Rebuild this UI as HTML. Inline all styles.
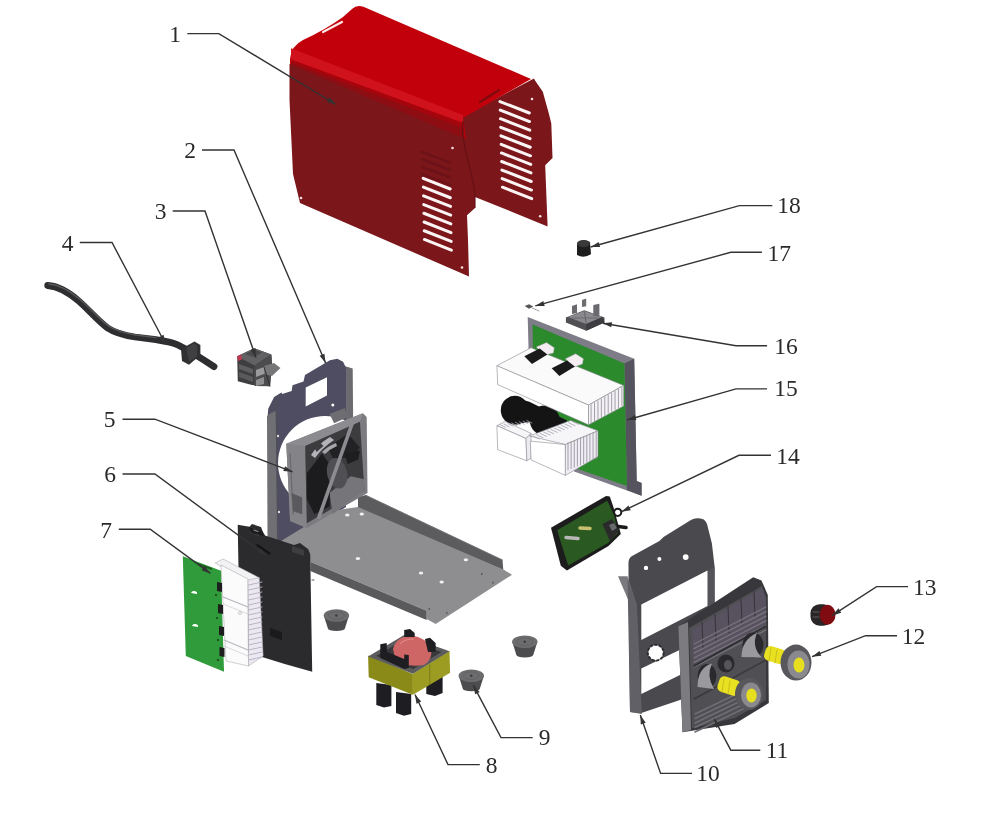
<!DOCTYPE html>
<html><head><meta charset="utf-8"><style>
html,body{margin:0;padding:0;background:#fff;width:983px;height:817px;overflow:hidden}
svg{display:block;will-change:transform}
text{font-family:"Liberation Serif",serif;font-size:23.5px;fill:#2a2a2a}
</style></head><body>
<svg width="983" height="817" viewBox="0 0 983 817">
<polygon points="462,116.5 534,78.5 535,80.5 542.8,91.8 548.9,113.8 551.3,123.6 552.5,157.9 545.2,165.2 547.6,226.4 475,196.9 471.8,190 466,160 462,138" fill="#7b161b" />
<path d="M290,72 L290,59 Q291,46 303,40 Q325,30 343,17 L352,9 Q357,4 364,7 L531,79 L463,118 L466,139 Z" fill="#c2000b"/>
<polygon points="291,48.3 463,115.1 463,123.11 291,59.47" fill="#d0121c" />
<polygon points="291,59.47 463,123.11 465,139.938 291,65.5525" fill="#a5050d" />
<polygon points="291,62.47 463,128.11 465,139.938 291,65.5525" fill="#8e0d13" />
<polygon points="289.5,63.9112 466,139.365 467.7,159.5 473.6,184 475,196 475,208 467,215.2 468,240 469,276.5 300,203 293,174 289.5,100" fill="#7b161b" />
<path d="M463,121 Q461,135 467.7,159.5 L473.6,184 L475,196 L475,208" fill="none" stroke="#641015" stroke-width="1.1"/>
<line x1="500" y1="101.6" x2="529.3" y2="113" stroke="#fbf4f4" stroke-width="3.0" stroke-linecap="round"/>
<line x1="500.24" y1="110.16" x2="529.54" y2="121.56" stroke="#fbf4f4" stroke-width="3.0" stroke-linecap="round"/>
<line x1="500.48" y1="118.72" x2="529.78" y2="130.12" stroke="#fbf4f4" stroke-width="3.0" stroke-linecap="round"/>
<line x1="500.72" y1="127.28" x2="530.02" y2="138.68" stroke="#fbf4f4" stroke-width="3.0" stroke-linecap="round"/>
<line x1="500.96" y1="135.84" x2="530.26" y2="147.24" stroke="#fbf4f4" stroke-width="3.0" stroke-linecap="round"/>
<line x1="501.2" y1="144.4" x2="530.5" y2="155.8" stroke="#fbf4f4" stroke-width="3.0" stroke-linecap="round"/>
<line x1="501.44" y1="152.96" x2="530.74" y2="164.36" stroke="#fbf4f4" stroke-width="3.0" stroke-linecap="round"/>
<line x1="501.68" y1="161.52" x2="530.98" y2="172.92" stroke="#fbf4f4" stroke-width="3.0" stroke-linecap="round"/>
<line x1="501.92" y1="170.08" x2="531.22" y2="181.48" stroke="#fbf4f4" stroke-width="3.0" stroke-linecap="round"/>
<line x1="502.16" y1="178.64" x2="531.46" y2="190.04" stroke="#fbf4f4" stroke-width="3.0" stroke-linecap="round"/>
<line x1="502.4" y1="187.2" x2="531.7" y2="198.6" stroke="#fbf4f4" stroke-width="3.0" stroke-linecap="round"/>
<line x1="422" y1="152" x2="450" y2="162.5" stroke="#6c1218" stroke-width="2.3" stroke-linecap="round"/>
<line x1="422" y1="159.4" x2="450" y2="169.9" stroke="#6c1218" stroke-width="2.3" stroke-linecap="round"/>
<line x1="422" y1="166.8" x2="450" y2="177.3" stroke="#6c1218" stroke-width="2.3" stroke-linecap="round"/>
<line x1="422" y1="174.2" x2="450" y2="184.7" stroke="#6c1218" stroke-width="2.3" stroke-linecap="round"/>
<line x1="423.2" y1="178.3" x2="450.2" y2="189" stroke="#fbf4f4" stroke-width="3.0" stroke-linecap="round"/>
<line x1="423.37" y1="187.04" x2="450.37" y2="197.74" stroke="#fbf4f4" stroke-width="3.0" stroke-linecap="round"/>
<line x1="423.54" y1="195.78" x2="450.54" y2="206.48" stroke="#fbf4f4" stroke-width="3.0" stroke-linecap="round"/>
<line x1="423.71" y1="204.52" x2="450.71" y2="215.22" stroke="#fbf4f4" stroke-width="3.0" stroke-linecap="round"/>
<line x1="423.88" y1="213.26" x2="450.88" y2="223.96" stroke="#fbf4f4" stroke-width="3.0" stroke-linecap="round"/>
<line x1="424.05" y1="222" x2="451.05" y2="232.7" stroke="#fbf4f4" stroke-width="3.0" stroke-linecap="round"/>
<line x1="424.22" y1="230.74" x2="451.22" y2="241.44" stroke="#fbf4f4" stroke-width="3.0" stroke-linecap="round"/>
<line x1="424.39" y1="239.48" x2="451.39" y2="250.18" stroke="#fbf4f4" stroke-width="3.0" stroke-linecap="round"/>
<circle cx="301" cy="198" r="1.3" fill="#f4e0e0"/>
<circle cx="462" cy="267.5" r="1.3" fill="#f4e0e0"/>
<circle cx="540.2" cy="216.3" r="1.3" fill="#f4e0e0"/>
<circle cx="532" cy="99" r="1.3" fill="#f4e0e0"/>
<circle cx="452.5" cy="148" r="1.3" fill="#f4e0e0"/>
<line x1="323" y1="32" x2="342" y2="22" stroke="#ffe8e8" stroke-width="2.2" stroke-linecap="round"/>
<line x1="480" y1="102" x2="499" y2="90" stroke="#7e0a10" stroke-width="2.2" stroke-linecap="round"/>
<path d="M47.7,285.5 C56,286 66,290 78.7,301 C88,309 98,321 107.6,328 C115,333 122,335 135,337 L156,339.6 C165,341 172,342 178,345 C186,349 195,354 214,366.6" fill="none" stroke="#2e2e30" stroke-width="6.8" stroke-linecap="round"/>
<path d="M49,284 C57,284.5 67,288.5 79.5,299 C89,307 99,319 108.5,326 C116,331 123,333 136,335 L156,337.6" fill="none" stroke="#58585a" stroke-width="1.3" stroke-linecap="round"/>
<polygon points="181,349 194.5,341.5 200.4,345 200.4,355 189,364.7 182,361" fill="#303032" />
<polygon points="186,348 194.5,343 197,346 197,356 189,362" fill="#404042" />
<polygon points="237.2,356.3 254.2,348.3 271.3,354.4 272,364 270,386.2 252,385 237.8,381.3" fill="#3e3e40" />
<polygon points="237.2,356.3 254.2,348.3 271.3,354.4 254.5,365.5" fill="#626264" />
<polygon points="245,354 254.2,349.5 262,352.5 254,357" fill="#4a4a4c" />
<polygon points="254.5,365.5 271.3,354.4 272,364 270,386.2 254.5,386" fill="#4c4c4e" />
<polygon points="239,364 253,369 253,374 239,369" fill="#5e5e60" />
<polygon points="239,372 253,377 253,382 239,377" fill="#5a5a5c" />
<polygon points="256,370 264,367 264,374 256,377" fill="#9a9a9c" />
<polygon points="256,380 264,377 264,384 256,386" fill="#8e8e90" />
<polygon points="264,366 274,363 280.5,368 272,376 264,374" fill="#767678" />
<polygon points="237.2,356.3 241,354.5 242,359.5 238,361" fill="#c03a50" />
<line x1="264" y1="367" x2="270" y2="386" stroke="#2e2e30" stroke-width="1" stroke-linecap="round"/>
<polygon points="344.6,366 352.7,368.4 353.8,501 346,498" fill="#6c6c70" />
<polygon points="329.9,360.3 337.3,358.8 343.1,361.8 346,368 346,507 270,553 267.5,419 268.2,408.8 274.1,397 281.4,392.6 282.2,394 291.7,391.1 292.5,385.3 303.5,381.6 305,375" fill="#4e4d62" />
<polygon points="267,416 271,413 275.6,411 277.5,548 270,552 267.5,540" fill="#707074" />
<line x1="276.5" y1="400" x2="277.5" y2="548" stroke="#505054" stroke-width="0.8" stroke-linecap="round"/>
<polygon points="305.7,387.5 327,377.2 327,395.5 305.7,406.5" fill="#ffffff" />
<circle cx="332.8" cy="405" r="1.5" fill="#fff"/>
<circle cx="278" cy="436" r="1.2" fill="#ddd"/>
<circle cx="279" cy="512" r="1.2" fill="#ddd"/>
<circle cx="325" cy="463" r="47" fill="#ffffff"/>
<polygon points="358,497 366,495 502.5,559.7 503.3,570 358,508" fill="#5c5c5e" />
<line x1="366" y1="495.5" x2="502.5" y2="560" stroke="#7a7a7c" stroke-width="0.8" stroke-linecap="round"/>
<polygon points="281,541 330,511 358,507 503.3,569.5 512,574.8 435.7,624 426.6,619 426.6,610.8 310.3,561.8" fill="#8e8e90" />
<polygon points="310.3,561.8 426.6,610.8 426.6,620 310.3,571" fill="#5a5a5c" />
<ellipse cx="361.8" cy="514" rx="2.2" ry="1.5" fill="#f0f0f0"/>
<ellipse cx="357.9" cy="558.5" rx="2.2" ry="1.5" fill="#f0f0f0"/>
<ellipse cx="421" cy="572.9" rx="2.2" ry="1.5" fill="#f0f0f0"/>
<ellipse cx="441.7" cy="581.9" rx="2.2" ry="1.5" fill="#f0f0f0"/>
<ellipse cx="465.9" cy="559.7" rx="2.2" ry="1.5" fill="#f0f0f0"/>
<ellipse cx="347.3" cy="515" rx="2.2" ry="1.5" fill="#f0f0f0"/>
<circle cx="481.8" cy="574" r="0.9" fill="#5a5a5c"/>
<circle cx="493" cy="582.7" r="0.9" fill="#5a5a5c"/>
<circle cx="429.3" cy="609" r="0.9" fill="#5a5a5c"/>
<circle cx="446.8" cy="613" r="0.9" fill="#5a5a5c"/>
<polygon points="286.3,443.7 362.9,413.3 366.7,417.1 367.5,493 306.8,527.9 290.1,521.1" fill="#7c7c80" />
<polygon points="286.3,443.7 305.2,445.9 306.8,527.9 290.1,521.1" fill="#848488" />
<polygon points="286.3,443.7 362.9,413.3 359.9,421.7 305.2,445.9" fill="#8c8c90" />
<polygon points="305.2,445.9 359.9,421.7 364.4,489.9 306.8,523.3" fill="#3c3c3e" />
<polygon points="329.5,493 350.8,476.3 364.4,479.3 364.4,489.9 332.6,514.2" fill="#76767a" />
<polygon points="306.8,473.3 321.9,453.5 331,465.7 329.5,506.6 314.3,514.2 306.8,499" fill="#1c1c1e" />
<polygon points="328,447.5 347.7,433.8 359.9,447.5 350.8,458.1 332.6,458.1" fill="#222224" />
<ellipse cx="337.1" cy="473.3" rx="10" ry="15.5" fill="#505054" transform="rotate(-12 337.1 473.3)"/>
<polygon points="344.7,453.5 359.9,450.5 358.4,459.6 347.7,464.1" fill="#1e1e20" />
<path d="M311,455 Q318,444 330,437 L334,440 Q322,448 315,458 Z" fill="#b4b4b8"/>
<path d="M322,452 Q328,446 336,443 L337,446 Q330,449 325,454 Z" fill="#a8a8ac"/>
<polygon points="314.3,447.5 320.4,442.9 323.5,445.9 316.6,452" fill="#3c3c3e" />
<line x1="352.3" y1="423.2" x2="318.9" y2="517.3" stroke="#8c8c90" stroke-width="3.6" stroke-linecap="round"/>
<line x1="290.1" y1="453.5" x2="293.1" y2="514.2" stroke="#6a6a6e" stroke-width="1.2" stroke-linecap="round"/>
<polygon points="291.6,493 302.2,497.5 302.2,514.2 293.1,511.2" fill="#5a5a5e" />
<polygon points="329.5,414.1 344.7,408 347.7,417.1 334.1,423.2" fill="#6e6e72" />
<polygon points="237.7,524.8 249.5,526.8 252,524 261,527 263,532 265.1,535.6 294,545 300,543 308.3,549.3 310.2,554.2 312.2,671.8 284.7,664 240,650" fill="#2b2b2d" />
<polygon points="250,527 259,530 259,536 250,533" fill="#444446" />
<polygon points="292,546 304,550 304,556 292,552" fill="#3e3e40" />
<polygon points="270,628 282,632 282,640 270,636" fill="#1a1a1c" />
<line x1="257.5" y1="545.2" x2="269.4" y2="553.5" stroke="#141416" stroke-width="2.2" stroke-linecap="round"/>
<polygon points="249,527 262,531 264,536 251,533" fill="#1c1c1e" />
<line x1="254" y1="530" x2="258" y2="531.5" stroke="#8a8a8c" stroke-width="1.2" stroke-linecap="round"/>
<line x1="312" y1="580" x2="314" y2="580" stroke="#555" stroke-width="1" stroke-linecap="round"/>
<polygon points="215.2,563 223,559 259.3,577.7 250,582 248,582" fill="#f2f2f4" stroke="#a0a0a6" stroke-width="0.5" stroke-linejoin="round" />
<polygon points="221,565 248,579 248.5,666 226,661" fill="#fbfbfc" stroke="#a0a0a6" stroke-width="0.5" stroke-linejoin="round" />
<polygon points="248,580 259.3,577.7 263.2,656 248.5,666" fill="#ece8f2" stroke="#a0a0a6" stroke-width="0.5" stroke-linejoin="round" />
<line x1="248.5" y1="585" x2="262" y2="582" stroke="#b4aebe" stroke-width="0.9" stroke-linecap="round"/>
<line x1="248.5" y1="590" x2="262" y2="587" stroke="#b4aebe" stroke-width="0.9" stroke-linecap="round"/>
<line x1="248.5" y1="595" x2="262" y2="592" stroke="#b4aebe" stroke-width="0.9" stroke-linecap="round"/>
<line x1="248.5" y1="600" x2="262" y2="597" stroke="#b4aebe" stroke-width="0.9" stroke-linecap="round"/>
<line x1="248.5" y1="605" x2="262" y2="602" stroke="#b4aebe" stroke-width="0.9" stroke-linecap="round"/>
<line x1="248.5" y1="610" x2="262" y2="607" stroke="#b4aebe" stroke-width="0.9" stroke-linecap="round"/>
<line x1="248.5" y1="615" x2="262" y2="612" stroke="#b4aebe" stroke-width="0.9" stroke-linecap="round"/>
<line x1="248.5" y1="620" x2="262" y2="617" stroke="#b4aebe" stroke-width="0.9" stroke-linecap="round"/>
<line x1="248.5" y1="625" x2="262" y2="622" stroke="#b4aebe" stroke-width="0.9" stroke-linecap="round"/>
<line x1="248.5" y1="630" x2="262" y2="627" stroke="#b4aebe" stroke-width="0.9" stroke-linecap="round"/>
<line x1="248.5" y1="635" x2="262" y2="632" stroke="#b4aebe" stroke-width="0.9" stroke-linecap="round"/>
<line x1="248.5" y1="640" x2="262" y2="637" stroke="#b4aebe" stroke-width="0.9" stroke-linecap="round"/>
<line x1="248.5" y1="645" x2="262" y2="642" stroke="#b4aebe" stroke-width="0.9" stroke-linecap="round"/>
<line x1="248.5" y1="650" x2="262" y2="647" stroke="#b4aebe" stroke-width="0.9" stroke-linecap="round"/>
<line x1="248.5" y1="655" x2="262" y2="652" stroke="#b4aebe" stroke-width="0.9" stroke-linecap="round"/>
<line x1="248.5" y1="660" x2="262" y2="657" stroke="#b4aebe" stroke-width="0.9" stroke-linecap="round"/>
<line x1="223" y1="597" x2="248" y2="607" stroke="#b8b8be" stroke-width="1.2" stroke-linecap="round"/>
<line x1="223" y1="604" x2="248" y2="614" stroke="#d0d0d4" stroke-width="0.8" stroke-linecap="round"/>
<line x1="224" y1="640" x2="248" y2="650" stroke="#b8b8be" stroke-width="1.2" stroke-linecap="round"/>
<line x1="224" y1="646" x2="248" y2="656" stroke="#d0d0d4" stroke-width="0.8" stroke-linecap="round"/>
<circle cx="240" cy="613" r="1.5" fill="none" stroke="#aaa" stroke-width="0.6"/>
<polygon points="182.8,556.2 221,570.8 224,671.8 185.8,656.1" fill="#2f9b3b" />
<path d="M191,593 a3,2.5 0 1,1 6,1 l-3,-0.5 z" fill="#fff"/>
<path d="M192,626 a3,2.5 0 1,1 6,1 l-3,-0.5 z" fill="#fff"/>
<polygon points="217,582 222,583 222,592 217,591" fill="#1e1e1e" />
<polygon points="218,604 223,605 223,614 218,613" fill="#1e1e1e" />
<polygon points="219,626 224,627 224,636 219,635" fill="#1e1e1e" />
<polygon points="219.5,647 224.5,648 224.5,657 219.5,656" fill="#1e1e1e" />
<circle cx="216" cy="595" r="1.1" fill="#1e3e1e"/>
<circle cx="217" cy="618" r="1.1" fill="#1e3e1e"/>
<circle cx="218" cy="640" r="1.1" fill="#1e3e1e"/>
<circle cx="218" cy="660" r="1.1" fill="#1e3e1e"/>
<polygon points="198,563 212,568 212,570 198,565" fill="#1e5a1e" />
<polygon points="323.8,615.5 349,615.5 344.9,628.5 327.9,628.5" fill="#4c4c4e" />
<ellipse cx="336.4" cy="628.5" rx="8.5" ry="2.6" fill="#4c4c4e"/>
<ellipse cx="336.4" cy="615.5" rx="12.7" ry="6.3" fill="#6c6c6e"/>
<ellipse cx="336.4" cy="615.5" rx="8" ry="3.8" fill="none" stroke="#606062" stroke-width="0.8"/>
<circle cx="336.4" cy="615.5" r="1.2" fill="#3a3a3c"/>
<polygon points="512.2,641.8 537.4,641.8 533.3,654.8 516.3,654.8" fill="#4c4c4e" />
<ellipse cx="524.8" cy="654.8" rx="8.5" ry="2.6" fill="#4c4c4e"/>
<ellipse cx="524.8" cy="641.8" rx="12.7" ry="6.3" fill="#6c6c6e"/>
<ellipse cx="524.8" cy="641.8" rx="8" ry="3.8" fill="none" stroke="#606062" stroke-width="0.8"/>
<circle cx="524.8" cy="641.8" r="1.2" fill="#3a3a3c"/>
<polygon points="458.7,675.7 483.9,675.7 479.8,688.7 462.8,688.7" fill="#4c4c4e" />
<ellipse cx="471.3" cy="688.7" rx="8.5" ry="2.6" fill="#4c4c4e"/>
<ellipse cx="471.3" cy="675.7" rx="12.7" ry="6.3" fill="#6c6c6e"/>
<ellipse cx="471.3" cy="675.7" rx="8" ry="3.8" fill="none" stroke="#606062" stroke-width="0.8"/>
<circle cx="471.3" cy="675.7" r="1.2" fill="#3a3a3c"/>
<polygon points="376.3,683 391.4,685 391.4,706 384,707.6 376.3,705" fill="#1e1e22" />
<polygon points="396,692 411.2,694 411.2,714 404,715.7 396,713" fill="#1e1e22" />
<polygon points="426.3,681 442.6,677 442.6,693 435,695.9 426.3,694" fill="#1e1e22" />
<polygon points="368.1,655.4 412.9,674 412.9,694.8 368.7,677.3" fill="#8a8a18" />
<polygon points="412.4,674 449.5,650.7 450.1,672.7 412.9,694.8" fill="#9c9c22" />
<line x1="429.8" y1="665" x2="429.8" y2="684" stroke="#74741a" stroke-width="0.8" stroke-linecap="round"/>
<polygon points="368.1,656.4 404.2,635 449.5,651.2 412.9,673.8" fill="#5c5c5e" />
<polygon points="376,656 404.2,639.5 441.5,652 413,669" fill="#38383a" />
<path d="M393,649 Q396,637 410,635.5 Q426,637 431,648 Q433,660 424,665 Q412,667 403,664 Q394,659 393,649 Z" fill="#cf6666"/>
<path d="M400,644 Q404,639 414,639" fill="none" stroke="#e08a86" stroke-width="1.2"/>
<polygon points="380.3,644.2 386.7,643 387,652 404.2,659 404.2,654.5 408.8,655 408.8,668 404.5,669 380.3,658" fill="#1e1e22" />
<polygon points="404.2,630 410,629 414.7,633 414.7,637 404.2,637" fill="#1e1e22" />
<polygon points="425,639 430,637.8 435.6,643 435.6,651.7 428,652" fill="#1e1e22" />
<polygon points="527.7,317.1 634.2,358.8 636.7,481.1 641.6,483 641.6,495.8 574.2,471.4 529,366" fill="#7e7c86" />
<polygon points="624.4,363.6 634.2,358.8 636.7,481.1 641.6,483 641.6,495.8 626.9,490" fill="#55535e" />
<polygon points="532.6,324.5 624.4,363.6 626.9,486 578,469 533,370" fill="#2a8a2c" />
<polygon points="501.1,408.5 510.6,396.5 529.4,401.7 567.1,420.5 562,432.5 541.4,436 529.4,422.2 510.6,424" fill="#141414" />
<ellipse cx="514.8" cy="410.3" rx="14" ry="14.5" fill="#141414"/>
<ellipse cx="544.8" cy="420.5" rx="15" ry="15" fill="#141414"/>
<polygon points="496.9,365.7 531.1,347.7 623.7,385.4 588.5,405.1" fill="#fafafb" stroke="#8a8a90" stroke-width="0.6" stroke-linejoin="round" />
<polygon points="496.9,365.7 588.5,405.1 588.5,424.8 497.7,384.6" fill="#ffffff" stroke="#8a8a90" stroke-width="0.6" stroke-linejoin="round" />
<polygon points="588.5,405.1 623.7,385.4 623.7,406 588.5,424.8" fill="#f4f2f6" stroke="#8a8a90" stroke-width="0.6" stroke-linejoin="round" />
<line x1="591.1" y1="404.7" x2="591.1" y2="422.7" stroke="#9a96a2" stroke-width="0.9" stroke-linecap="round"/>
<line x1="594.522" y1="402.8" x2="594.522" y2="420.8" stroke="#9a96a2" stroke-width="0.9" stroke-linecap="round"/>
<line x1="597.944" y1="400.9" x2="597.944" y2="418.9" stroke="#9a96a2" stroke-width="0.9" stroke-linecap="round"/>
<line x1="601.367" y1="399" x2="601.367" y2="417" stroke="#9a96a2" stroke-width="0.9" stroke-linecap="round"/>
<line x1="604.789" y1="397.1" x2="604.789" y2="415.1" stroke="#9a96a2" stroke-width="0.9" stroke-linecap="round"/>
<line x1="608.211" y1="395.2" x2="608.211" y2="413.2" stroke="#9a96a2" stroke-width="0.9" stroke-linecap="round"/>
<line x1="611.633" y1="393.3" x2="611.633" y2="411.3" stroke="#9a96a2" stroke-width="0.9" stroke-linecap="round"/>
<line x1="615.056" y1="391.4" x2="615.056" y2="409.4" stroke="#9a96a2" stroke-width="0.9" stroke-linecap="round"/>
<line x1="618.478" y1="389.5" x2="618.478" y2="407.5" stroke="#9a96a2" stroke-width="0.9" stroke-linecap="round"/>
<line x1="621.9" y1="387.6" x2="621.9" y2="405.6" stroke="#9a96a2" stroke-width="0.9" stroke-linecap="round"/>
<polygon points="536.3,346.9 546.5,342.6 554.3,347.7 553.4,352.9 544,355.4" fill="#f4eef2" stroke="#9a9aa0" stroke-width="0.5" stroke-linejoin="round" />
<polygon points="565.4,358.8 575.7,353.7 583.4,358.8 582.5,364 573.1,367.4" fill="#f4eef2" stroke="#9a9aa0" stroke-width="0.5" stroke-linejoin="round" />
<polygon points="524.3,356.3 539.7,348.6 547.4,354.6 532,364" fill="#1a1a1a" />
<polygon points="551.7,368.3 567.1,360.6 574.8,366.6 559.4,376" fill="#1a1a1a" />
<polygon points="496.9,425.7 505.4,421.4 531.1,433.4 526,438.5" fill="#f6f6f8" stroke="#8a8a90" stroke-width="0.6" stroke-linejoin="round" />
<polygon points="496.9,425.7 526,438.5 526.8,460.8 497.7,449.7" fill="#ffffff" stroke="#8a8a90" stroke-width="0.6" stroke-linejoin="round" />
<polygon points="526,438.5 531.1,433.4 531.1,458.2 526.8,460.8" fill="#eeecf2" stroke="#8a8a90" stroke-width="0.6" stroke-linejoin="round" />
<polygon points="529.4,436 570.5,420.5 598,430.8 565.4,444.5" fill="#f6f6f8" stroke="#8a8a90" stroke-width="0.6" stroke-linejoin="round" />
<polygon points="530.3,441.1 565.4,444.5 565.4,475.4 531.1,459.9" fill="#ffffff" stroke="#8a8a90" stroke-width="0.6" stroke-linejoin="round" />
<polygon points="565.4,444.5 598,430.8 598,456.5 565.4,475.4" fill="#f0eef4" stroke="#8a8a90" stroke-width="0.6" stroke-linejoin="round" />
<line x1="500.3" y1="424.8" x2="505.3" y2="427.3" stroke="#a8a4b0" stroke-width="0.8" stroke-linecap="round"/>
<line x1="504.086" y1="424.186" x2="509.086" y2="426.686" stroke="#a8a4b0" stroke-width="0.8" stroke-linecap="round"/>
<line x1="507.871" y1="423.571" x2="512.871" y2="426.071" stroke="#a8a4b0" stroke-width="0.8" stroke-linecap="round"/>
<line x1="511.657" y1="422.957" x2="516.657" y2="425.457" stroke="#a8a4b0" stroke-width="0.8" stroke-linecap="round"/>
<line x1="515.443" y1="422.343" x2="520.443" y2="424.843" stroke="#a8a4b0" stroke-width="0.8" stroke-linecap="round"/>
<line x1="519.229" y1="421.729" x2="524.229" y2="424.229" stroke="#a8a4b0" stroke-width="0.8" stroke-linecap="round"/>
<line x1="523.014" y1="421.114" x2="528.014" y2="423.614" stroke="#a8a4b0" stroke-width="0.8" stroke-linecap="round"/>
<line x1="526.8" y1="420.5" x2="531.8" y2="423" stroke="#a8a4b0" stroke-width="0.8" stroke-linecap="round"/>
<line x1="532.8" y1="436" x2="539.3" y2="439" stroke="#a8a4b0" stroke-width="0.8" stroke-linecap="round"/>
<line x1="536.382" y1="434.673" x2="542.882" y2="437.673" stroke="#a8a4b0" stroke-width="0.8" stroke-linecap="round"/>
<line x1="539.964" y1="433.345" x2="546.464" y2="436.345" stroke="#a8a4b0" stroke-width="0.8" stroke-linecap="round"/>
<line x1="543.545" y1="432.018" x2="550.045" y2="435.018" stroke="#a8a4b0" stroke-width="0.8" stroke-linecap="round"/>
<line x1="547.127" y1="430.691" x2="553.627" y2="433.691" stroke="#a8a4b0" stroke-width="0.8" stroke-linecap="round"/>
<line x1="550.709" y1="429.364" x2="557.209" y2="432.364" stroke="#a8a4b0" stroke-width="0.8" stroke-linecap="round"/>
<line x1="554.291" y1="428.036" x2="560.791" y2="431.036" stroke="#a8a4b0" stroke-width="0.8" stroke-linecap="round"/>
<line x1="557.873" y1="426.709" x2="564.373" y2="429.709" stroke="#a8a4b0" stroke-width="0.8" stroke-linecap="round"/>
<line x1="561.455" y1="425.382" x2="567.955" y2="428.382" stroke="#a8a4b0" stroke-width="0.8" stroke-linecap="round"/>
<line x1="565.036" y1="424.055" x2="571.536" y2="427.055" stroke="#a8a4b0" stroke-width="0.8" stroke-linecap="round"/>
<line x1="568.618" y1="422.727" x2="575.118" y2="425.727" stroke="#a8a4b0" stroke-width="0.8" stroke-linecap="round"/>
<line x1="572.2" y1="421.4" x2="578.7" y2="424.4" stroke="#a8a4b0" stroke-width="0.8" stroke-linecap="round"/>
<line x1="568" y1="442.8" x2="568" y2="469.8" stroke="#9a96a2" stroke-width="0.9" stroke-linecap="round"/>
<line x1="571.133" y1="441.567" x2="571.133" y2="468.567" stroke="#9a96a2" stroke-width="0.9" stroke-linecap="round"/>
<line x1="574.267" y1="440.333" x2="574.267" y2="467.333" stroke="#9a96a2" stroke-width="0.9" stroke-linecap="round"/>
<line x1="577.4" y1="439.1" x2="577.4" y2="466.1" stroke="#9a96a2" stroke-width="0.9" stroke-linecap="round"/>
<line x1="580.533" y1="437.867" x2="580.533" y2="464.867" stroke="#9a96a2" stroke-width="0.9" stroke-linecap="round"/>
<line x1="583.667" y1="436.633" x2="583.667" y2="463.633" stroke="#9a96a2" stroke-width="0.9" stroke-linecap="round"/>
<line x1="586.8" y1="435.4" x2="586.8" y2="462.4" stroke="#9a96a2" stroke-width="0.9" stroke-linecap="round"/>
<line x1="589.933" y1="434.167" x2="589.933" y2="461.167" stroke="#9a96a2" stroke-width="0.9" stroke-linecap="round"/>
<line x1="593.067" y1="432.933" x2="593.067" y2="459.933" stroke="#9a96a2" stroke-width="0.9" stroke-linecap="round"/>
<line x1="596.2" y1="431.7" x2="596.2" y2="458.7" stroke="#9a96a2" stroke-width="0.9" stroke-linecap="round"/>
<polygon points="565.9,317.5 584.2,310.3 604.5,317.5 604.5,322.6 586.2,330.7 565.9,322.6" fill="#505054" />
<polygon points="567.9,317 584.2,310.9 602.5,317 586.2,324.1" fill="#8a8a8e" />
<line x1="572" y1="318" x2="598" y2="318" stroke="#6a6a6e" stroke-width="1.2" stroke-linecap="round"/>
<line x1="584.5" y1="312" x2="586" y2="323" stroke="#6a6a6e" stroke-width="1.2" stroke-linecap="round"/>
<polygon points="586.2,324.1 602.5,317 604.5,322.6 586.2,330.7" fill="#3e3e42" />
<polygon points="572,306 577,304.2 577,313 572,314" fill="#6a6a6e" />
<polygon points="582,300 586.2,298.6 586.2,306.3 582,307" fill="#6e6e72" />
<polygon points="593.3,305 599.4,303.7 599.4,316.4 593.3,316" fill="#6a6a6e" />
<polygon points="524.7,306 529,304.2 533.3,306.5 529,308.8" fill="#555" />
<line x1="532" y1="308" x2="539" y2="311" stroke="#888" stroke-width="0.8" stroke-linecap="round"/>
<path d="M577,243 Q583,238 590,242 L591,254 Q584,259 577,255 Z" fill="#1e1e1e"/>
<ellipse cx="583.5" cy="243.5" rx="6.5" ry="3.5" fill="#3a3a3a"/>
<polygon points="551,527.7 606.1,495.9 609.8,496.5 613.4,507 620.8,533.9 608.5,546.1 566.9,570.6 560.8,565.7" fill="#1c1c1c" />
<polygon points="557.1,530.2 607.3,500.8 614,515 618,533 608,543 568.2,565.5" fill="#2a5a22" />
<line x1="566" y1="537.5" x2="578" y2="538.5" stroke="#b8b8b8" stroke-width="3.5" stroke-linecap="round"/>
<line x1="580" y1="528" x2="590" y2="528.5" stroke="#c8c070" stroke-width="3.5" stroke-linecap="round"/>
<polygon points="602.4,524 612,519 619.6,530 610,541.2" fill="#2a2a2a" />
<polygon points="609,525 614,523 617,528 612,531" fill="#6a6a6c" />
<line x1="618.3" y1="526.5" x2="626" y2="527.5" stroke="#1a1a1a" stroke-width="3.5" stroke-linecap="round"/>
<circle cx="617.7" cy="512.3" r="3.6" fill="none" stroke="#1a1a1a" stroke-width="2"/>
<path d="M628.5,575 L628.5,562 Q629,557 633,555.5 L659.4,541 L663.5,537 L687.7,522.1 Q695,516 703.8,519.4 Q707,522 707.9,527.5 L711.9,543.6 L714.6,566.5 L714.6,691 L706.6,691 L680,700 L641.3,713 L630,712 L628.5,580 Z" fill="#4a4a4e"/>
<polygon points="618,576.3 627.5,576.3 636.9,605.9 630.2,604.5" fill="#7a7a7e" />
<polygon points="627.5,578 636.9,605 641.8,714 630,712" fill="#606066" />
<polygon points="707.5,571 714.6,567 714.6,691 707.5,691" fill="#54545a" />
<polygon points="641.3,604.5 707.5,570.5 707.5,606 641.3,640" fill="#ffffff" />
<polygon points="641.3,668.6 680,649.8 680,675 641.3,694" fill="#ffffff" />
<circle cx="655.7" cy="652.7" r="7.5" fill="#ffffff"/>
<circle cx="655.7" cy="652.7" r="8" fill="none" stroke="#2e2e32" stroke-width="2" stroke-dasharray="3 1.5"/>
<circle cx="646" cy="567.9" r="2.2" fill="#fff"/>
<circle cx="659.4" cy="559.1" r="2.0" fill="#fff"/>
<circle cx="685.7" cy="557.1" r="2.9" fill="#fff"/>
<polygon points="678.3,626.2 700,612 753.2,577.3 761.5,580.4 767.8,595 768.8,703.1 734.5,724 682.5,732.3" fill="#38383c" />
<polygon points="689,628 762,586 766,598 766,700 735,718 692,728" fill="#505054" />
<polygon points="678.3,626.2 688,622 691,730 682.5,732.3" fill="#7c7c80" />
<polygon points="692,630 762,588 766,598 766,624 694,664" fill="#585260" />
<line x1="702" y1="622" x2="703" y2="648" stroke="#38363c" stroke-width="1.1" stroke-linecap="round"/>
<line x1="715" y1="614.2" x2="716" y2="640.2" stroke="#38363c" stroke-width="1.1" stroke-linecap="round"/>
<line x1="728" y1="606.4" x2="729" y2="632.4" stroke="#38363c" stroke-width="1.1" stroke-linecap="round"/>
<line x1="741" y1="598.6" x2="742" y2="624.6" stroke="#38363c" stroke-width="1.1" stroke-linecap="round"/>
<line x1="754" y1="590.8" x2="755" y2="616.8" stroke="#38363c" stroke-width="1.1" stroke-linecap="round"/>
<line x1="694" y1="644" x2="766" y2="607" stroke="#76727c" stroke-width="1.4" stroke-linecap="round"/>
<line x1="694" y1="648.6" x2="766" y2="611.6" stroke="#76727c" stroke-width="1.4" stroke-linecap="round"/>
<line x1="694" y1="653.2" x2="766" y2="616.2" stroke="#76727c" stroke-width="1.4" stroke-linecap="round"/>
<line x1="694" y1="657.8" x2="766" y2="620.8" stroke="#76727c" stroke-width="1.4" stroke-linecap="round"/>
<line x1="694" y1="662.4" x2="766" y2="625.4" stroke="#76727c" stroke-width="1.4" stroke-linecap="round"/>
<line x1="694" y1="667" x2="766" y2="630" stroke="#76727c" stroke-width="1.4" stroke-linecap="round"/>
<line x1="694" y1="666" x2="766" y2="626" stroke="#2e2e32" stroke-width="1.6" stroke-linecap="round"/>
<line x1="695" y1="714" x2="745" y2="690" stroke="#6e6e74" stroke-width="1.5" stroke-linecap="round"/>
<line x1="695" y1="718.5" x2="745" y2="694.5" stroke="#6e6e74" stroke-width="1.5" stroke-linecap="round"/>
<line x1="695" y1="723" x2="745" y2="699" stroke="#6e6e74" stroke-width="1.5" stroke-linecap="round"/>
<line x1="695" y1="727.5" x2="745" y2="703.5" stroke="#6e6e74" stroke-width="1.5" stroke-linecap="round"/>
<line x1="695" y1="732" x2="745" y2="708" stroke="#6e6e74" stroke-width="1.5" stroke-linecap="round"/>
<line x1="694" y1="699" x2="766" y2="660" stroke="#3a3a3e" stroke-width="1.6" stroke-linecap="round"/>
<ellipse cx="707" cy="676" rx="9.5" ry="12" fill="#2a2a2e"/>
<path d="M697.5,687 Q697.5,668 712,663.6 Q706,676 714,689 Z" fill="#9a9a9e"/>
<ellipse cx="753" cy="645" rx="10.5" ry="12.5" fill="#2a2a2e"/>
<path d="M741.5,657 Q741.5,640 757,632.7 Q751,647 762,657.5 Z" fill="#9a9a9e"/>
<ellipse cx="726" cy="663.5" rx="8.5" ry="9" fill="#2a2a2e"/>
<ellipse cx="728" cy="665" rx="4" ry="5" fill="#56565a"/>
<rect x="764.5" y="647.5" width="21" height="15" rx="5" fill="#e8e020" transform="rotate(18 775 655)"/>
<line x1="771" y1="648" x2="769" y2="661" stroke="#c8c018" stroke-width="1" stroke-linecap="round"/>
<line x1="777" y1="650" x2="775" y2="663" stroke="#c8c018" stroke-width="1" stroke-linecap="round"/>
<ellipse cx="796" cy="662.6" rx="15.5" ry="18" fill="#58585c"/>
<ellipse cx="798.5" cy="664.5" rx="11" ry="14" fill="#8a8a8e"/>
<ellipse cx="799" cy="665" rx="5.5" ry="7.5" fill="#e6de1e"/>
<rect x="718" y="678" width="22" height="16" rx="5" fill="#e8e020" transform="rotate(18 729 686)"/>
<line x1="724" y1="679" x2="722" y2="692" stroke="#c8c018" stroke-width="1" stroke-linecap="round"/>
<line x1="730" y1="681" x2="728" y2="694" stroke="#c8c018" stroke-width="1" stroke-linecap="round"/>
<ellipse cx="749" cy="694" rx="14" ry="16" fill="#58585c"/>
<ellipse cx="751" cy="695" rx="10" ry="12.5" fill="#8a8a8e"/>
<ellipse cx="751.5" cy="695.5" rx="5.2" ry="7" fill="#e6de1e"/>
<rect x="810.5" y="604.2" width="22" height="21.5" rx="9" fill="#2a2628"/>
<ellipse cx="827.6" cy="614.8" rx="7.9" ry="10" fill="#800c12"/>
<line x1="813" y1="612" x2="819" y2="612" stroke="#5a5a5c" stroke-width="1" stroke-linecap="round"/>
<line x1="813" y1="617" x2="819" y2="617" stroke="#5a5a5c" stroke-width="1" stroke-linecap="round"/>
<polyline points="187.3,33.6 218.8,33.6 336,104.5" fill="none" stroke="#333333" stroke-width="1.4"/>
<polygon points="336,104.5 326.954,102.066 329.645,97.6169" fill="#333333" />
<text x="175.2" y="41.8" text-anchor="middle">1</text>
<polyline points="202,150 234,150 325.6,363" fill="none" stroke="#333333" stroke-width="1.4"/>
<polygon points="325.6,363 319.656,355.759 324.433,353.705" fill="#333333" />
<text x="190.2" y="157.6" text-anchor="middle">2</text>
<polyline points="172.7,211 205,211 256,357.7" fill="none" stroke="#333333" stroke-width="1.4"/>
<polygon points="256,357.7 250.589,350.053 255.5,348.345" fill="#333333" />
<text x="160.5" y="219.2" text-anchor="middle">3</text>
<polyline points="79.8,242.5 112,242.5 165.5,344" fill="none" stroke="#333333" stroke-width="1.4"/>
<polygon points="165.5,344 159.003,337.251 163.603,334.826" fill="#333333" />
<text x="67.7" y="250.7" text-anchor="middle">4</text>
<polyline points="122.5,419.2 154.9,419.2 292.6,471.8" fill="none" stroke="#333333" stroke-width="1.4"/>
<polygon points="292.6,471.8 283.265,471.017 285.12,466.16" fill="#333333" />
<text x="109.7" y="427.2" text-anchor="middle">5</text>
<polyline points="122.5,474 154.9,474 266.3,555.8" fill="none" stroke="#333333" stroke-width="1.4"/>
<polygon points="266.3,555.8 257.507,552.569 260.585,548.378" fill="#333333" />
<text x="110.1" y="481.8" text-anchor="middle">6</text>
<polyline points="118.8,529.3 150.2,529.3 210.4,573.4" fill="none" stroke="#333333" stroke-width="1.4"/>
<polygon points="210.4,573.4 201.603,570.179 204.676,565.984" fill="#333333" />
<text x="106.2" y="538.2" text-anchor="middle">7</text>
<polyline points="479.8,764.6 448,764.6 415,694.5" fill="none" stroke="#333333" stroke-width="1.4"/>
<polygon points="415,694.5 421.186,701.535 416.481,703.75" fill="#333333" />
<text x="491.7" y="773.3" text-anchor="middle">8</text>
<polyline points="532.7,737.6 501,737.6 473.2,685.2" fill="none" stroke="#333333" stroke-width="1.4"/>
<polygon points="473.2,685.2 479.715,691.932 475.121,694.369" fill="#333333" />
<text x="544.6" y="745.4" text-anchor="middle">9</text>
<polyline points="692,773.4 660.6,773.4 640.3,715.1" fill="none" stroke="#333333" stroke-width="1.4"/>
<polygon points="640.3,715.1 645.715,722.745 640.804,724.454" fill="#333333" />
<text x="707.9" y="780.8" text-anchor="middle">10</text>
<polyline points="760.3,750.2 730.8,750.2 714.2,718.8" fill="none" stroke="#333333" stroke-width="1.4"/>
<polygon points="714.2,718.8 720.705,725.541 716.108,727.972" fill="#333333" />
<text x="777" y="757.6" text-anchor="middle">11</text>
<polyline points="897,635.7 865.6,635.7 812,656.7" fill="none" stroke="#333333" stroke-width="1.4"/>
<polygon points="812,656.7 819.431,650.996 821.328,655.838" fill="#333333" />
<text x="913.6" y="644.2" text-anchor="middle">12</text>
<polyline points="908,586.6 876.6,586.6 832.3,615.4" fill="none" stroke="#333333" stroke-width="1.4"/>
<polygon points="832.3,615.4 838.428,608.315 841.263,612.674" fill="#333333" />
<text x="924.7" y="595.1" text-anchor="middle">13</text>
<polyline points="771,455.3 739,455.3 621.5,511.7" fill="none" stroke="#333333" stroke-width="1.4"/>
<polygon points="621.5,511.7 628.489,505.461 630.739,510.149" fill="#333333" />
<text x="787.9" y="464.2" text-anchor="middle">14</text>
<polyline points="767,388.9 736,388.9 627,420" fill="none" stroke="#333333" stroke-width="1.4"/>
<polygon points="627,420 634.941,415.03 636.368,420.031" fill="#333333" />
<text x="786.1" y="396.3" text-anchor="middle">15</text>
<polyline points="767.1,345.7 736,345.7 602.8,323.2" fill="none" stroke="#333333" stroke-width="1.4"/>
<polygon points="602.8,323.2 612.107,322.135 611.241,327.263" fill="#333333" />
<text x="786.1" y="353.7" text-anchor="middle">16</text>
<polyline points="761.9,252.3 730.8,252.3 535.3,305.9" fill="none" stroke="#333333" stroke-width="1.4"/>
<polygon points="535.3,305.9 543.292,301.013 544.667,306.028" fill="#333333" />
<text x="779.2" y="260.7" text-anchor="middle">17</text>
<polyline points="772.3,205.6 739.4,205.6 590.7,247" fill="none" stroke="#333333" stroke-width="1.4"/>
<polygon points="590.7,247 598.673,242.081 600.068,247.091" fill="#333333" />
<text x="788.9" y="213" text-anchor="middle">18</text>
</svg>
</body></html>
